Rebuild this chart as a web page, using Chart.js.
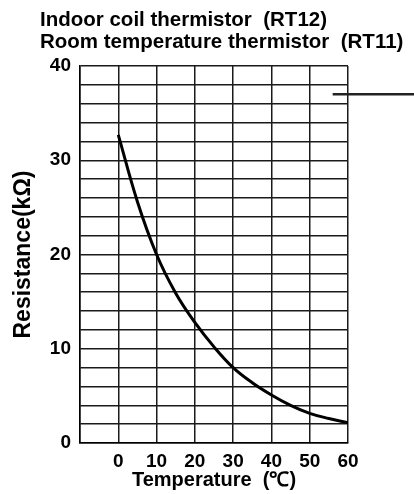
<!DOCTYPE html>
<html>
<head>
<meta charset="utf-8">
<script src="https://cdn.jsdelivr.net/npm/chart.js@4"></script>
<style>
  html, body { margin: 0; padding: 0; background: #fff; }
  #wrap { width: 414px; height: 494px; }
</style>
</head>
<body>
<div id="wrap"><canvas id="chart" width="414" height="494"></canvas></div>
<script>
// values
const temperatures = [0, 5, 10, 15, 20, 25, 30, 35, 40, 45, 50, 55, 60];
const resistances = [32.7, 25.6, 20.0, 15.9, 12.8, 10.2, 8.0, 6.4, 5.1, 4.0, 3.15, 2.6, 2.15];
const titleLines = ["Indoor coil thermistor  (RT12)", "Room temperature thermistor  (RT11)"];
const xTitle = "Temperature  (\u2103)";
const yTitle = "Resistance(k\u03A9)";
const leaderValue = { y: 37, x: 56 };

const FONT = "'Liberation Sans', Arial, Helvetica, sans-serif";

const headerPlugin = {
  id: "header",
  afterDraw(chart) {
    const ctx = chart.ctx;
    ctx.save();
    ctx.fillStyle = "#000";
    ctx.font = "bold 20.5px " + FONT;
    ctx.textBaseline = "alphabetic";
    ctx.fillText(titleLines[0], 40, 26);
    ctx.fillText(titleLines[1], 40, 48);
    // leader line pointing at the curve label
    const { x, y } = chart.scales;
    const py = y.getPixelForValue(leaderValue.y);
    ctx.strokeStyle = "#222";
    ctx.lineWidth = 2.5;
    ctx.beginPath();
    ctx.moveTo(x.getPixelForValue(leaderValue.x), py);
    ctx.lineTo(chart.width, py);
    ctx.stroke();
    ctx.restore();
  },
};

new Chart(document.getElementById("chart"), {
  type: "line",
  data: {
    datasets: [{
      data: temperatures.map((t, i) => ({ x: t, y: resistances[i] })),
      borderColor: "#000",
      borderWidth: 3,
      pointRadius: 0,
      tension: 0.4,
    }],
  },
  options: {
    responsive: false,
    animation: false,
    layout: { padding: { top: 66, right: 66, bottom: 0, left: 0 } },
    plugins: { legend: { display: false }, tooltip: { enabled: false } },
    scales: {
      x: {
        type: "linear",
        min: -10,
        max: 60,
        afterFit: (s) => { s.height = 51; },
        ticks: {
          stepSize: 10,
          autoSkip: false,
          maxRotation: 0,
          padding: 7,
          color: "#000",
          font: { family: FONT, size: 19, weight: "bold" },
          callback: (v) => (v < 0 ? "" : v),
        },
        grid: { color: "#1a1a1a", lineWidth: 1.5, drawTicks: false },
        border: { color: "#000", width: 1.5 },
        title: {
          display: true,
          text: xTitle,
          color: "#000",
          font: { family: FONT, size: 20, weight: "bold" },
          padding: { top: 0, bottom: 2 },
        },
      },
      y: {
        min: 0,
        max: 40,
        afterFit: (s) => { s.width = 80; },
        ticks: {
          stepSize: 2,
          autoSkip: false,
          padding: 9,
          color: "#000",
          font: { family: FONT, size: 19, weight: "bold" },
          callback: (v) => (v % 10 === 0 ? v : ""),
        },
        grid: { color: "#1a1a1a", lineWidth: 1.5, drawTicks: false },
        border: { color: "#000", width: 1.5 },
        title: {
          display: true,
          text: yTitle,
          color: "#000",
          font: { family: FONT, size: 23, weight: "bold" },
          padding: { top: 10, bottom: 0 },
        },
      },
    },
  },
  plugins: [headerPlugin],
});
</script>
</body>
</html>
